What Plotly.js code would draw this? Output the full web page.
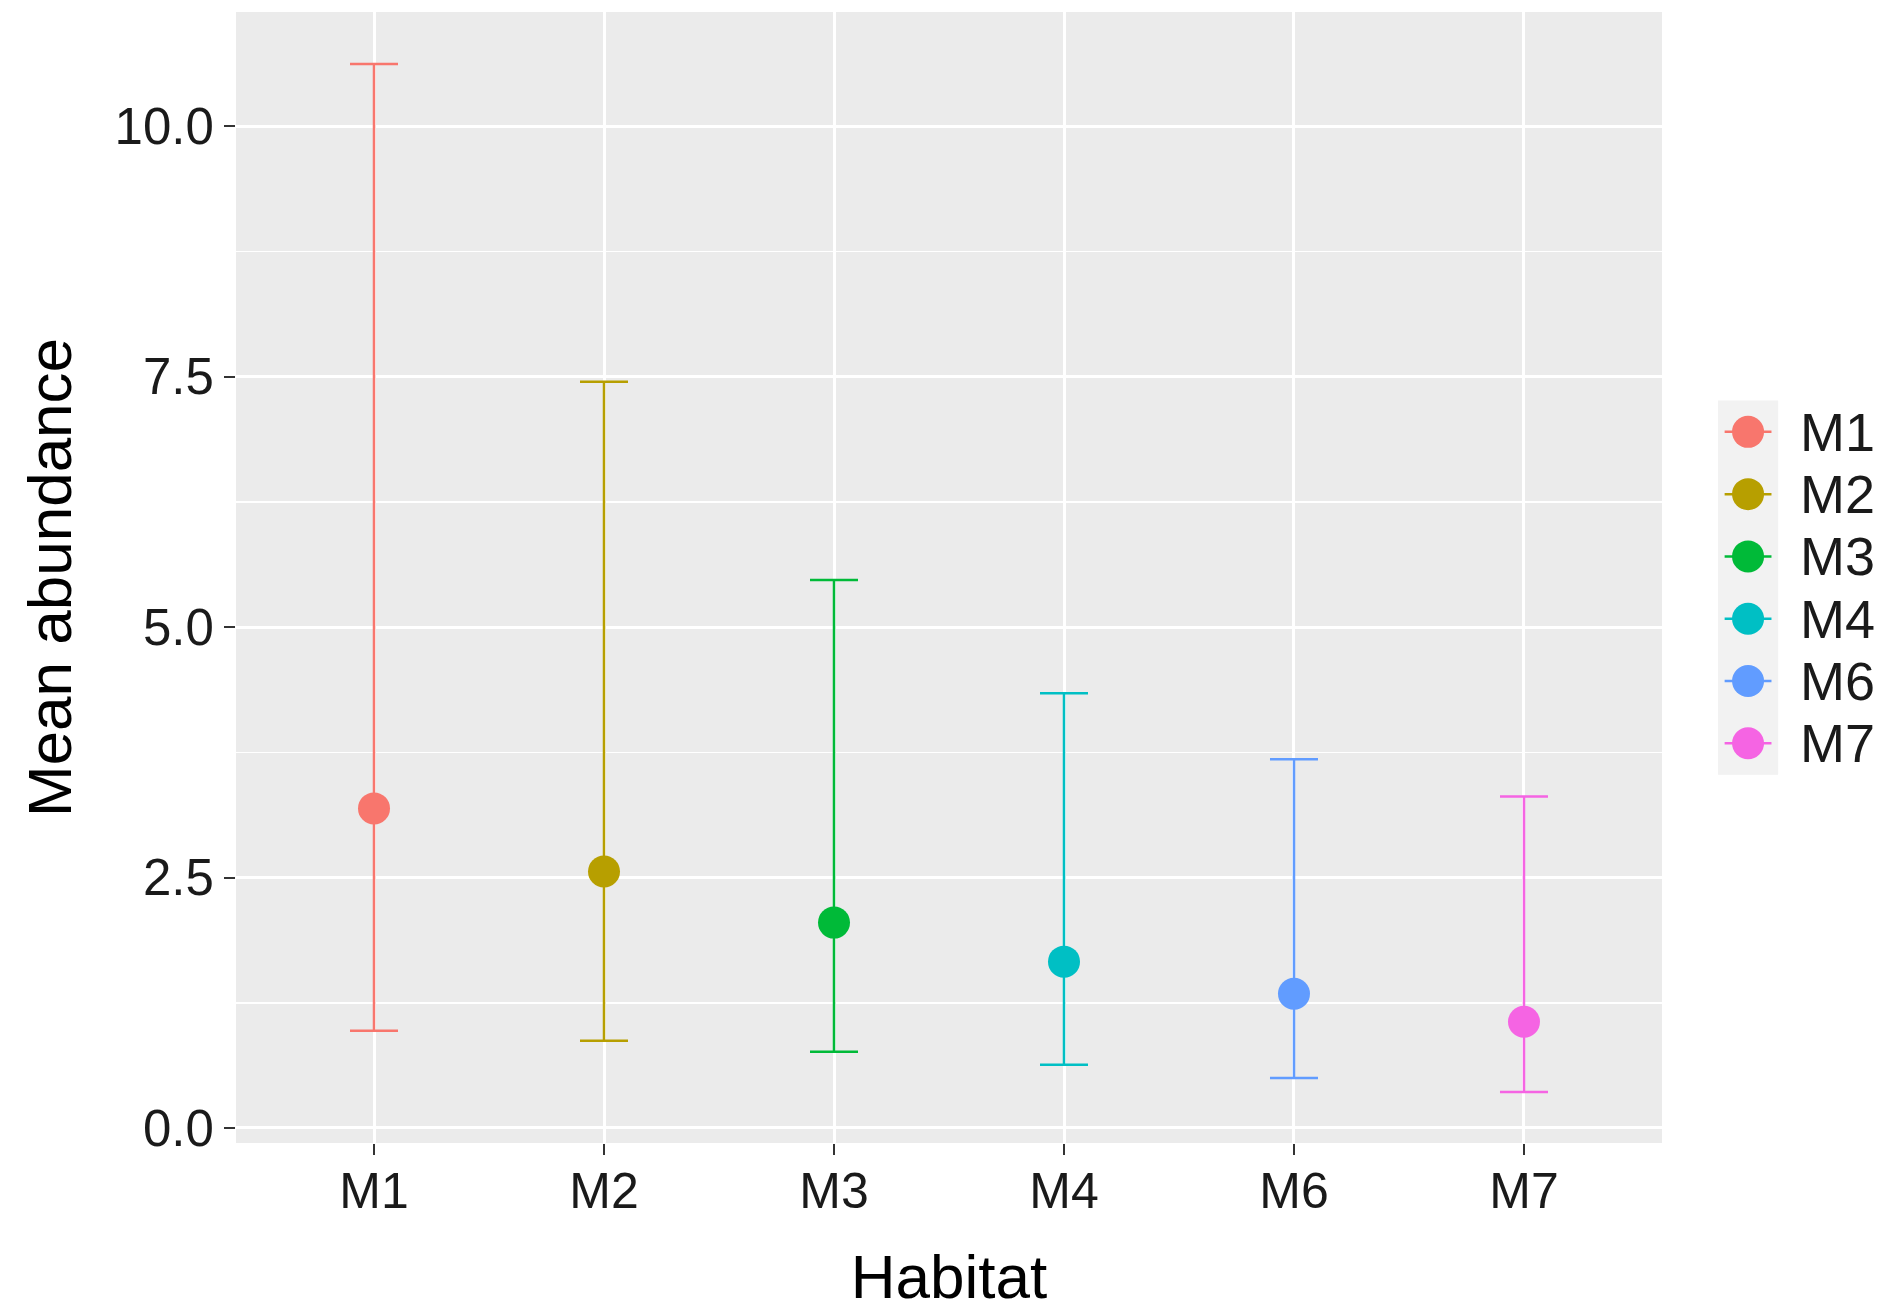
<!DOCTYPE html>
<html>
<head>
<meta charset="utf-8">
<script src="https://cdn.plot.ly/plotly-3.0.1.min.js"></script>
<style>
  html, body { margin: 0; padding: 0; background: #ffffff; }
  #chart { width: 1888px; height: 1313px; }
</style>
</head>
<body>
<div id="chart"></div>
<script>
// ---- data ----
const habitats = ["M1", "M2", "M3", "M4", "M6", "M7"];
const meanAbundance = [3.19, 2.56, 2.05, 1.66, 1.34, 1.06];
const upperLimit = [10.62, 7.45, 5.47, 4.34, 3.68, 3.31];
const lowerLimit = [0.97, 0.87, 0.76, 0.63, 0.50, 0.36];
const yTickValues = [0, 2.5, 5, 7.5, 10];
const yTickLabels = ["0.0", "2.5", "5.0", "7.5", "10.0"];
const habitatColors = ["#F8766D", "#B79F00", "#00BA38", "#00BFC4", "#619CFF", "#F564E3"];

const FONT = "Liberation Sans, Arial, sans-serif";
const traces = [];

// main chart: one trace per habitat
habitats.forEach((h, i) => {
  traces.push({
    type: "scatter",
    mode: "markers",
    x: [h],
    y: [meanAbundance[i]],
    xaxis: "x", yaxis: "y",
    marker: { color: habitatColors[i], size: 32, line: { width: 0 } },
    error_y: {
      type: "data",
      symmetric: false,
      array: [upperLimit[i] - meanAbundance[i]],
      arrayminus: [meanAbundance[i] - lowerLimit[i]],
      color: habitatColors[i],
      thickness: 2.5,
      width: 24
    },
    showlegend: false,
    hoverinfo: "x+y"
  });
});

// legend drawn as its own small subplot (keys like ggplot: point with a line through)
habitats.forEach((h, i) => {
  traces.push({
    type: "scatter",
    mode: "markers",
    x: [0.5],
    y: [h],
    xaxis: "x2", yaxis: "y2",
    marker: { color: habitatColors[i], size: 32 },
    error_x: { type: "constant", value: 0.39, width: 0, thickness: 2.5, color: habitatColors[i] },
    cliponaxis: false,
    showlegend: false,
    hoverinfo: "skip"
  });
});

const legendLabels = habitats.map(h => ({
  xref: "x2", yref: "y2",
  x: 1, y: h,
  xanchor: "left", yanchor: "middle",
  xshift: 20,
  text: h,
  showarrow: false,
  font: { family: FONT, size: 54, color: "#1a1a1a" }
}));

const layout = {
  width: 1888,
  height: 1313,
  margin: { l: 236, r: 20, t: 12, b: 170 },
  paper_bgcolor: "#ffffff",
  plot_bgcolor: "#EBEBEB",
  font: { family: FONT, color: "#1a1a1a" },
  showlegend: false,
  xaxis: {
    domain: [0, 0.87377],
    type: "category",
    categoryorder: "array",
    categoryarray: habitats,
    range: [-0.6, 5.6],
    showgrid: true,
    gridcolor: "#ffffff",
    gridwidth: 3,
    zeroline: false,
    showline: false,
    ticks: "outside",
    ticklen: 11,
    tickwidth: 2,
    tickcolor: "#333333",
    ticklabelstandoff: -7,
    tickfont: { family: FONT, size: 50, color: "#1a1a1a" },
    title: { text: "Habitat", font: { family: FONT, size: 62, color: "#000000" }, standoff: 36 },
    fixedrange: true
  },
  yaxis: {
    range: [-0.15, 11.14],
    tickmode: "array",
    tickvals: yTickValues,
    ticktext: yTickLabels,
    showgrid: true,
    gridcolor: "#ffffff",
    gridwidth: 3,
    minor: { dtick: 1.25, tick0: 0, showgrid: true, gridcolor: "#ffffff", gridwidth: 1.5, ticks: "" },
    zeroline: false,
    showline: false,
    ticks: "outside",
    ticklen: 11,
    tickwidth: 2,
    tickcolor: "#333333",
    tickfont: { family: FONT, size: 51, color: "#1a1a1a" },
    title: { text: "Mean abundance", font: { family: FONT, size: 62, color: "#000000" }, standoff: 22 },
    fixedrange: true
  },
  xaxis2: {
    domain: [0.9081, 0.9449],
    anchor: "y2",
    range: [0, 1],
    visible: false,
    fixedrange: true
  },
  yaxis2: {
    domain: [0.3259, 0.6563],
    anchor: "x2",
    type: "category",
    categoryorder: "array",
    categoryarray: habitats,
    range: [5.5, -0.5],
    visible: false,
    fixedrange: true
  },
  annotations: legendLabels,
  shapes: [{
    type: "rect",
    xref: "x2 domain", yref: "y2 domain",
    x0: 0, x1: 1, y0: 0, y1: 1,
    fillcolor: "#F2F2F2",
    line: { width: 0 },
    layer: "below"
  }]
};

Plotly.newPlot("chart", traces, layout, { displayModeBar: false, staticPlot: true });
</script>
</body>
</html>
